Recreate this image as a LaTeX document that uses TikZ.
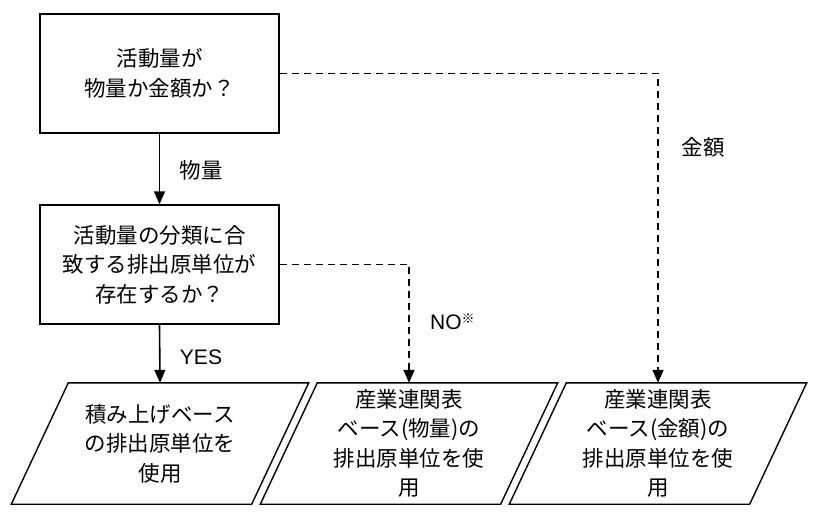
\documentclass[tikz,border=0pt]{standalone}
\usepackage{fontspec}
\setmainfont{Liberation Sans}
\newfontfamily\jp{Noto Sans CJK JP}
\usetikzlibrary{arrows.meta}
\begin{document}
\begin{tikzpicture}[x=1pt,y=-1pt,
  txt/.style={font=\jp\fontsize{21.5}{29.5}\selectfont, align=center, inner sep=0pt},
  box/.style={txt, draw, line width=1.4pt, minimum width=239pt, minimum height=119pt},
  para/.style={txt, minimum width=183pt, minimum height=121pt},
  pline/.style={line width=1.4pt, line join=miter},
  arr/.style={line width=1.6pt, -{Triangle[width=11pt,length=13pt]}},
  darr/.style={arr, dash pattern=on 7pt off 5pt},
  lbl/.style={font=\jp\fontsize{21.5}{24}\selectfont, inner sep=0pt},
  elbl/.style={font=\fontsize{21}{24}\selectfont, inner sep=0pt}]
\useasboundingbox (0,0) rectangle (824,518);

\node[box] (q1) at (159.5,73.5) {活動量が\\物量か金額か？};
\node[box] (q2) at (159.5,264.5) {活動量の分類に合\\致する排出原単位が\\存在するか？};

\node[para] (p1) at (160,443.5) {積み上げベース\\の排出原単位を\\使用};
\node[para] (p2) at (409,443.5) {産業連関表\\ベース(物量)の\\排出原単位を使\\用};
\node[para] (p3) at (658,443.5) {産業連関表\\ベース(金額)の\\排出原単位を使\\用};

\foreach \p in {p1,p2,p3}{
  \draw[pline] (\p.north west) -- ([xshift=57pt]\p.north east) -- (\p.south east) -- ([xshift=-57pt]\p.south west) -- cycle;
}

\draw[arr] (q1.south) -- (q2.north);
\draw[arr] (q2.south) -- (p1.north);
\draw[darr] (q1.east) -| (p3.north);
\draw[darr] (q2.east) -| (p2.north);

\node[lbl] (l1) at (201,170) {物量};
\node[lbl] (l2) at (703,147) {金額};
\node[elbl] (l3) at (201,357) {YES};
\node[elbl, anchor=west] (l4) at (430,322) {NO\raisebox{6pt}{\jp\fontsize{13}{14}\selectfont ※}};
\end{tikzpicture}
\end{document}
